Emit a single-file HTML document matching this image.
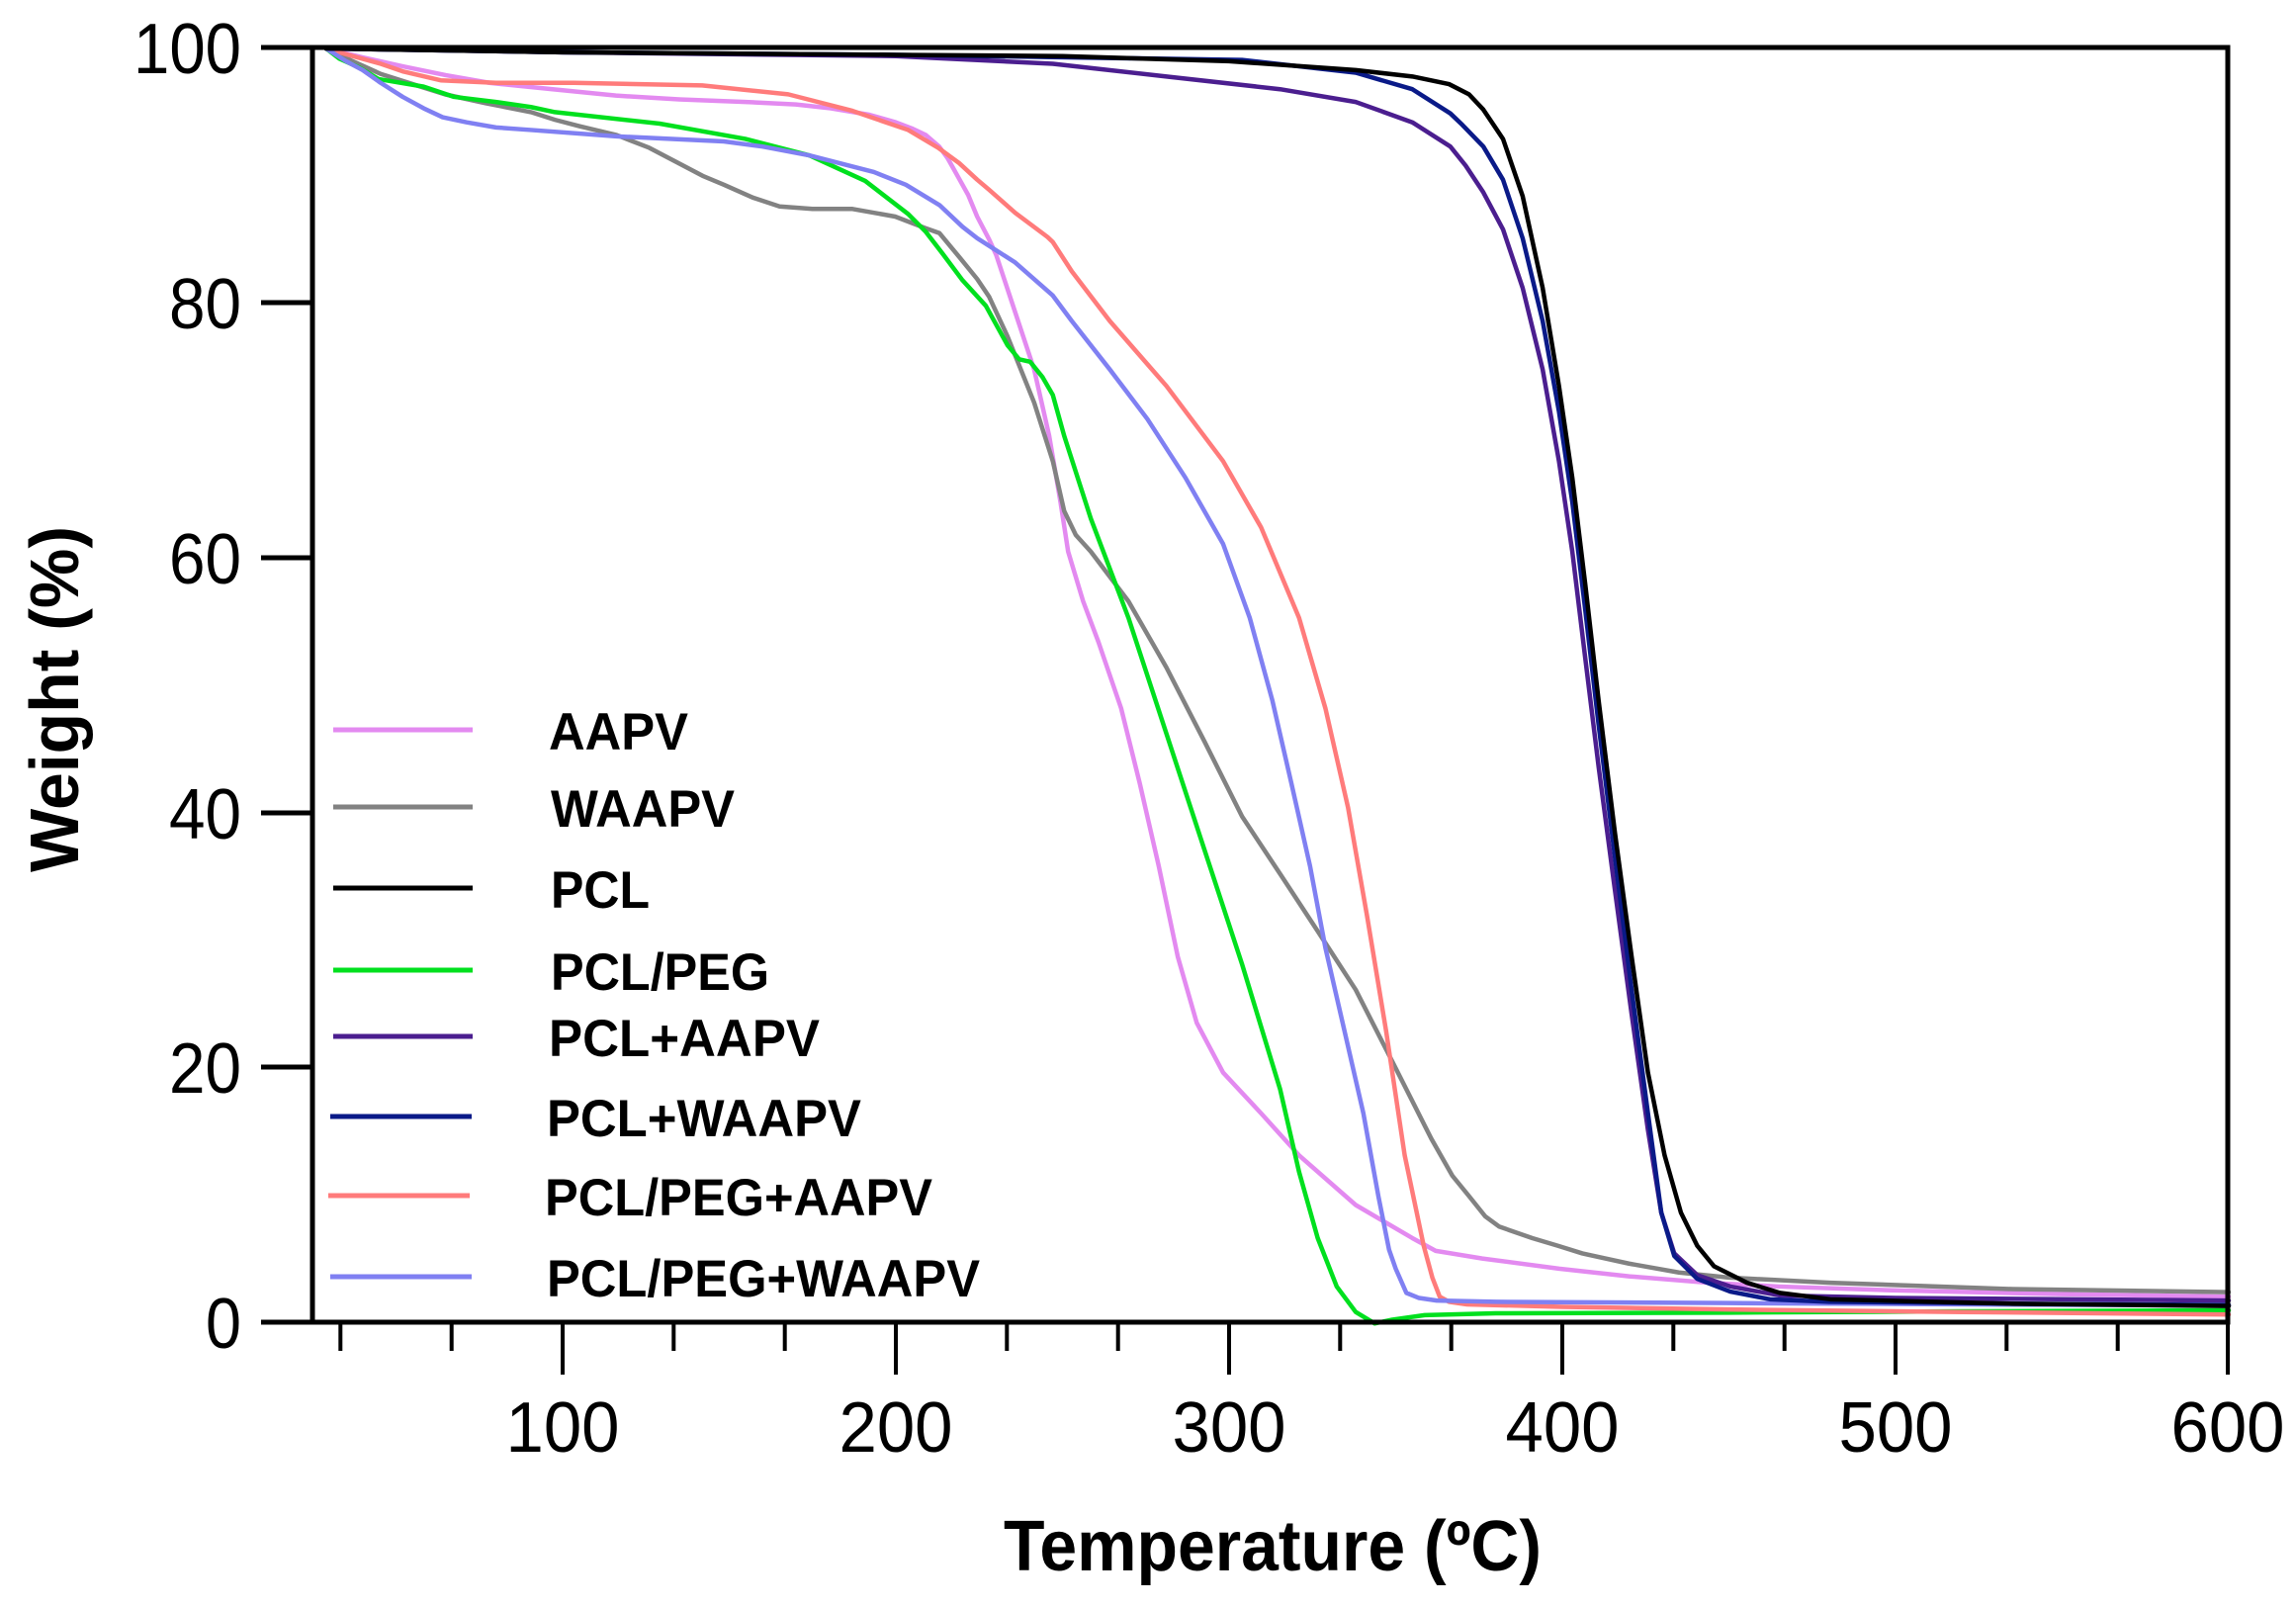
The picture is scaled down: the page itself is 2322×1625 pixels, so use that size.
<!DOCTYPE html>
<html>
<head>
<meta charset="utf-8">
<style>
html,body{margin:0;padding:0;background:#fff;}
svg{display:block;}
text{font-family:"Liberation Sans",Arial,Helvetica,sans-serif;fill:#000;}
</style>
</head>
<body>
<svg width="2322" height="1625" viewBox="0 0 2322 1625" xmlns="http://www.w3.org/2000/svg">
<rect x="0" y="0" width="2322" height="1625" fill="#fff"/>

<!-- curves in data coords: x=232+3.37T, y=1337-12.88W -->
<g transform="matrix(3.37 0 0 -12.88 232 1337)" fill="none" stroke-linejoin="round" stroke-linecap="round">
<polyline vector-effect="non-scaling-stroke" stroke="#E38AF0" stroke-width="4.5" points="29,100 40,99.3 52,98.6 65,97.9 78,97.3 97,96.8 116,96.3 135,96 155,95.8 170,95.6 180.5,95.3 192,94.8 200,94.2 205,93.7 209,93.2 213,92.3 215.5,91.4 218.5,90 221.7,88.5 224.4,86.8 228,85 230.1,83.8 235.8,79.3 241.5,74.8 246,69.6 249.4,64.4 251.7,60.5 256.2,56.6 260.8,53.4 267.6,48.2 273.2,42.3 278.9,35.8 284.6,28.7 290.3,23.5 298.2,19.6 309.6,16.4 321,13.1 338,9.2 355,6.6 362,5.6 376,5.0 399,4.2 420,3.6 444,3.1 465,2.8 499,2.5 550,2.2 600,2.0"/>
<polyline vector-effect="non-scaling-stroke" stroke="#828282" stroke-width="4.5" points="29,100 37,99 45.4,98 55,97.2 64.7,96.4 77,95.7 90.5,95 97.7,94.4 105,93.9 116.2,93.2 126,92.2 135.5,90.9 142,90 148.4,89.3 157,88.3 165.1,87.6 175,87.4 187,87.4 199.8,86.8 208.8,85.9 213.1,85.5 219.1,83.6 224.4,81.9 228,80.5 233.5,77.4 241.5,72.2 247.1,67.6 250.5,63.7 254,61.8 258.5,60.5 269.8,56.6 281.2,51.4 292.6,45.6 303.9,39.7 315.3,35.2 326.6,30.7 338,26.1 349.3,20.3 360.7,14.4 367,11.5 372,9.9 376.9,8.3 381.1,7.5 391,6.6 398.7,6 406,5.4 420,4.6 435,3.9 450,3.5 480.4,3.1 535,2.6 600,2.36"/>
<polyline vector-effect="non-scaling-stroke" stroke="#00E01E" stroke-width="4.5" points="29,100 33,99.2 39,98.5 44.7,97.6 58.3,97 67.4,96.2 80,95.8 90.5,95.4 97.7,95 129.1,94.1 154.8,92.9 174.1,91.6 190.8,89.6 203.7,87 209,85.6 214,83.9 220,81.8 227,79.8 233.5,76.7 237,75.6 240.3,75.4 244,74.2 247.1,72.8 250.5,69.6 258.5,63.1 269.8,55.3 281.2,46.2 292.6,37.1 303.9,28.1 315.3,18.3 321,11.8 326.6,6.6 332.3,2.8 338,0.8 343.7,-0.1 349,0.2 358.7,0.55 380,0.7 450,0.75 520,0.85 600,0.93"/>
<polyline vector-effect="non-scaling-stroke" stroke="#FF7B7B" stroke-width="4.5" points="29,100 37,99.4 45.4,98.8 52,98.2 63.4,97.5 80,97.3 103.3,97.3 141.9,97.1 167.7,96.4 187,95.1 203.7,93.6 212.7,92.2 219,91 224.4,89.7 228,88.9 235.8,87.1 245.5,85.2 247.1,84.8 252.8,82.5 264.2,78.6 281.2,73.5 298.2,67.6 309.6,62.4 321,55.3 328.9,48.2 335.7,40.4 341.4,31.9 347.1,22.9 352.7,13.1 358.4,6 361,3.5 363.2,2.0 366,1.6 371.4,1.4 400,1.2 450,1.0 520,0.8 600,0.6"/>
<polyline vector-effect="non-scaling-stroke" stroke="#8080F2" stroke-width="4.5" points="29,100 35,99 40,98.3 45.4,97.3 52,96.2 58.3,95.3 64,94.6 71.2,94.2 80,93.8 90.5,93.6 116.2,93.1 148.4,92.7 160,92.3 174.1,91.6 193.4,90.3 203,89.3 213.1,87.7 220,86 224.4,85.1 235.8,83.2 247.1,80.6 252.8,78.6 264.2,74.8 275.5,70.9 286.9,66.3 298.2,61.1 306.2,55.3 313,48.8 318.7,42.3 324.3,35.8 328.9,29.4 334.6,22.9 340.3,16.4 344.8,9.9 348,5.7 350,4.2 353.2,2.3 357,1.9 362.3,1.7 380,1.6 450,1.5 520,1.4 600,1.3"/>
<polyline vector-effect="non-scaling-stroke" stroke="#4B1E8F" stroke-width="4.5" points="29,100 100,99.7 200,99.4 247.1,98.8 281.2,97.8 315.3,96.8 338,95.8 355,94.2 366.4,92.3 371,90.8 376.3,88.7 382.2,85.8 388.1,81.2 394.1,74.8 399,67.6 403,60.5 406.9,52.1 410.9,43.6 415.8,33.9 420.8,24.2 425.7,15.1 429.7,8.6 433.6,5.4 440.5,3.7 450.4,2.8 465.3,2.1 500,1.9 600,1.7"/>
<polyline vector-effect="non-scaling-stroke" stroke="#0A1A88" stroke-width="4.5" points="29,100 100,99.7 200,99.5 303.9,99.1 338,98.1 355,96.8 366.4,94.9 370,94 376.3,92.3 382.2,89.7 388.1,85.1 394.1,78.6 399,71.5 403,64.4 406.9,55.9 410.9,46.9 415.8,36.5 420.8,26.1 425.7,16.4 429.7,8.6 433.6,5.2 440.5,3.4 450.4,2.4 462.3,1.8 480,1.6 540,1.45 600,1.35"/>
<polyline vector-effect="non-scaling-stroke" stroke="#000" stroke-width="4.5" points="29,100 100,99.7 200,99.5 250,99.4 300,99 338,98.3 355,97.8 366,97.2 372,96.4 376.3,95.2 382.2,92.9 388.1,88.4 394.1,81.2 399,73.5 403,66.3 406.9,57.9 410.9,48.8 415.8,38.4 420.8,28.7 425.7,19.6 430.7,13.1 435.6,8.6 440.5,6 445.5,4.4 455.4,3.1 465.3,2.3 480.4,1.8 535,1.45 600,1.27"/>
</g>

<!-- frame -->
<g stroke="#000" stroke-width="5" fill="none">
<line x1="316" y1="46" x2="316" y2="1339"/>
<line x1="313.5" y1="48" x2="2255.5" y2="48"/>
<line x1="2253" y1="46" x2="2253" y2="1339"/>
<line x1="264" y1="1337" x2="2255.5" y2="1337"/>
</g>

<!-- y ticks -->
<g stroke="#000" stroke-width="5">
<line x1="264" y1="48" x2="316" y2="48"/>
<line x1="264" y1="306" x2="316" y2="306"/>
<line x1="264" y1="564" x2="316" y2="564"/>
<line x1="264" y1="822" x2="316" y2="822"/>
<line x1="264" y1="1079" x2="316" y2="1079"/>
<line x1="264" y1="1337" x2="316" y2="1337"/>
</g>

<!-- x ticks -->
<g stroke="#000" stroke-width="4">
<line x1="344.3" y1="1337" x2="344.3" y2="1366"/>
<line x1="456.7" y1="1337" x2="456.7" y2="1366"/>
<line x1="569" y1="1337" x2="569" y2="1390"/>
<line x1="681.3" y1="1337" x2="681.3" y2="1366"/>
<line x1="793.7" y1="1337" x2="793.7" y2="1366"/>
<line x1="906" y1="1337" x2="906" y2="1390"/>
<line x1="1018.3" y1="1337" x2="1018.3" y2="1366"/>
<line x1="1130.7" y1="1337" x2="1130.7" y2="1366"/>
<line x1="1243" y1="1337" x2="1243" y2="1390"/>
<line x1="1355.3" y1="1337" x2="1355.3" y2="1366"/>
<line x1="1467.7" y1="1337" x2="1467.7" y2="1366"/>
<line x1="1580" y1="1337" x2="1580" y2="1390"/>
<line x1="1692.3" y1="1337" x2="1692.3" y2="1366"/>
<line x1="1804.7" y1="1337" x2="1804.7" y2="1366"/>
<line x1="1917" y1="1337" x2="1917" y2="1390"/>
<line x1="2029.3" y1="1337" x2="2029.3" y2="1366"/>
<line x1="2141.7" y1="1337" x2="2141.7" y2="1366"/>
<line x1="2253" y1="1337" x2="2253" y2="1390"/>
</g>

<!-- y tick labels -->
<g font-size="72" text-anchor="end">
<text x="244" y="74" textLength="109" lengthAdjust="spacingAndGlyphs">100</text>
<text x="244" y="332" textLength="73" lengthAdjust="spacingAndGlyphs">80</text>
<text x="244" y="590" textLength="73" lengthAdjust="spacingAndGlyphs">60</text>
<text x="244" y="848" textLength="73" lengthAdjust="spacingAndGlyphs">40</text>
<text x="244" y="1105" textLength="73" lengthAdjust="spacingAndGlyphs">20</text>
<text x="244" y="1363" textLength="36" lengthAdjust="spacingAndGlyphs">0</text>
</g>

<!-- x tick labels -->
<g font-size="72" text-anchor="middle">
<text x="569" y="1468" textLength="115" lengthAdjust="spacingAndGlyphs">100</text>
<text x="906" y="1468" textLength="115" lengthAdjust="spacingAndGlyphs">200</text>
<text x="1243" y="1468" textLength="115" lengthAdjust="spacingAndGlyphs">300</text>
<text x="1580" y="1468" textLength="115" lengthAdjust="spacingAndGlyphs">400</text>
<text x="1917" y="1468" textLength="115" lengthAdjust="spacingAndGlyphs">500</text>
<text x="2253" y="1468" textLength="115" lengthAdjust="spacingAndGlyphs">600</text>
</g>

<!-- axis titles -->
<text x="1287" y="1588" font-size="72" font-weight="bold" text-anchor="middle" textLength="544" lengthAdjust="spacingAndGlyphs">Temperature (ºC)</text>
<text transform="translate(79,707) rotate(-90)" x="0" y="0" font-size="70" font-weight="bold" text-anchor="middle" textLength="350" lengthAdjust="spacingAndGlyphs">Weight (%)</text>

<!-- legend -->
<g stroke-width="5" stroke-linecap="butt">
<line x1="337" y1="738" x2="478" y2="738" stroke="#E38AF0"/>
<line x1="337" y1="816" x2="478" y2="816" stroke="#828282"/>
<line x1="337" y1="898" x2="478" y2="898" stroke="#000"/>
<line x1="337" y1="981" x2="478" y2="981" stroke="#00E01E"/>
<line x1="337" y1="1048" x2="478" y2="1048" stroke="#4B1E8F"/>
<line x1="334" y1="1129" x2="477" y2="1129" stroke="#0A1A88"/>
<line x1="332" y1="1209" x2="475" y2="1209" stroke="#FF7B7B"/>
<line x1="334" y1="1291" x2="477" y2="1291" stroke="#8080F2"/>
</g>
<g font-size="53" font-weight="bold">
<text x="555" y="758" textLength="141" lengthAdjust="spacingAndGlyphs">AAPV</text>
<text x="557" y="836" textLength="186" lengthAdjust="spacingAndGlyphs">WAAPV</text>
<text x="557" y="918" textLength="100" lengthAdjust="spacingAndGlyphs">PCL</text>
<text x="557" y="1001" textLength="221" lengthAdjust="spacingAndGlyphs">PCL/PEG</text>
<text x="555" y="1068" textLength="274" lengthAdjust="spacingAndGlyphs">PCL+AAPV</text>
<text x="553" y="1149" textLength="318" lengthAdjust="spacingAndGlyphs">PCL+WAAPV</text>
<text x="551" y="1229" textLength="392" lengthAdjust="spacingAndGlyphs">PCL/PEG+AAPV</text>
<text x="553" y="1311" textLength="438" lengthAdjust="spacingAndGlyphs">PCL/PEG+WAAPV</text>
</g>
</svg>
</body>
</html>
